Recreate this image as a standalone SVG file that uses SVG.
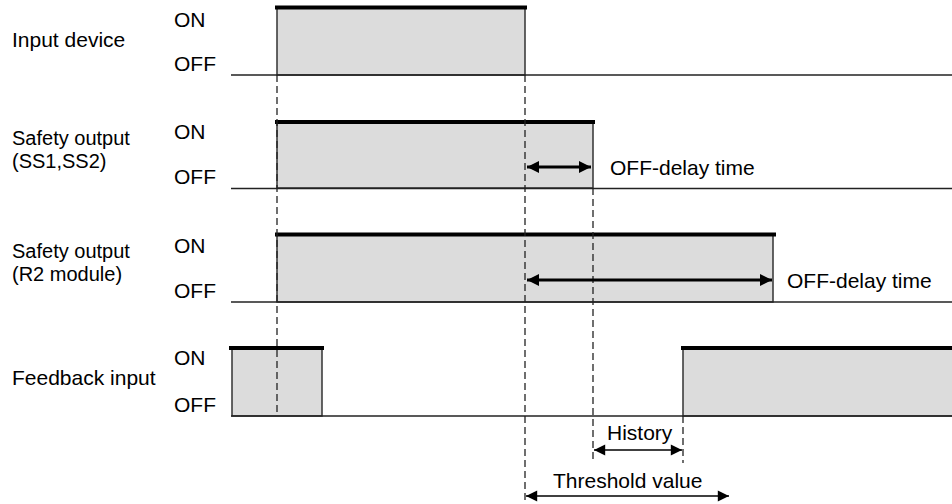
<svg xmlns="http://www.w3.org/2000/svg" width="952" height="504" viewBox="0 0 952 504">
<defs>
<style>
text{font-family:"Liberation Sans",Arial,sans-serif;font-size:21px;fill:#000}
text.two{font-size:20px}
.pulse{fill:#dcdcdc;stroke:#333;stroke-width:1.5}
.top{stroke:#000;stroke-width:4;fill:none}
.base{stroke:#222;stroke-width:1.3;fill:none}
.dash{stroke:#222;stroke-width:1.3;stroke-dasharray:7 4;fill:none}
.arr{stroke:#000;stroke-width:3;fill:none}
.arr2{stroke:#000;stroke-width:1.6;fill:none}
</style>
<marker id="ah" viewBox="0 0 10 10" refX="10" refY="5" markerWidth="5" markerHeight="4" markerUnits="strokeWidth" orient="auto-start-reverse">
<path d="M0,0 L10,5 L0,10 z" fill="#000"/>
</marker>
<marker id="ah2" viewBox="0 0 10 10" refX="10" refY="5" markerWidth="9" markerHeight="7" markerUnits="strokeWidth" orient="auto-start-reverse">
<path d="M0,0 L10,5 L0,10 z" fill="#000"/>
</marker>
</defs>

<g id="row-input">
<text x="12" y="47">Input device</text>
<text x="174" y="27">ON</text>
<text x="174" y="71">OFF</text>
<rect class="pulse" x="277" y="8" width="248" height="67"/>
<line class="base" x1="231" y1="75" x2="952" y2="75"/>
<line class="top" x1="275" y1="7.5" x2="527" y2="7.5"/>
</g>

<g id="row-ss">
<text class="two" x="12" y="145">Safety output</text>
<text class="two" x="12" y="168">(SS1,SS2)</text>
<text x="174" y="139">ON</text>
<text x="174" y="184">OFF</text>
<rect class="pulse" x="277" y="122" width="316" height="66"/>
<line class="base" x1="231" y1="188.5" x2="952" y2="188.5"/>
<line class="top" x1="275" y1="122" x2="595" y2="122"/>
<text x="610" y="175">OFF-delay time</text>
</g>

<g id="row-r2">
<text class="two" x="12" y="258">Safety output</text>
<text class="two" x="12" y="281">(R2 module)</text>
<text x="174" y="253">ON</text>
<text x="174" y="298">OFF</text>
<rect class="pulse" x="277" y="235" width="496" height="67"/>
<line class="base" x1="231" y1="302" x2="952" y2="302"/>
<line class="top" x1="275" y1="234.5" x2="776" y2="234.5"/>
<text x="787" y="288">OFF-delay time</text>
</g>

<g id="row-fb">
<text x="12" y="385">Feedback input</text>
<text x="174" y="365">ON</text>
<text x="174" y="412">OFF</text>
<rect class="pulse" x="232" y="348" width="90" height="68"/>
<rect class="pulse" x="683" y="348" width="275" height="68"/>
<line class="base" x1="231" y1="416" x2="952" y2="416"/>
<line class="top" x1="229" y1="348" x2="324" y2="348"/>
<line class="top" x1="681" y1="348" x2="952" y2="348"/>
</g>

<g id="connectors">
<line class="dash" x1="277" y1="75" x2="277" y2="416"/>
<line class="dash" x1="525" y1="75" x2="525" y2="504"/>
<line class="dash" x1="593" y1="188" x2="593" y2="463"/>
<line class="dash" x1="683" y1="416" x2="683" y2="463"/>
<line class="arr" x1="527" y1="167" x2="591" y2="167" marker-start="url(#ah)" marker-end="url(#ah)"/>
<line class="arr" x1="527" y1="280" x2="772" y2="280" marker-start="url(#ah)" marker-end="url(#ah)"/>
<line class="arr2" x1="594" y1="450" x2="682" y2="450" marker-start="url(#ah2)" marker-end="url(#ah2)"/>
<line class="arr2" x1="526" y1="496" x2="729" y2="496" marker-start="url(#ah2)" marker-end="url(#ah2)"/>
</g>

<g id="labels">
<text x="607" y="440">History</text>
<text x="553" y="488">Threshold value</text>
</g>
</svg>
